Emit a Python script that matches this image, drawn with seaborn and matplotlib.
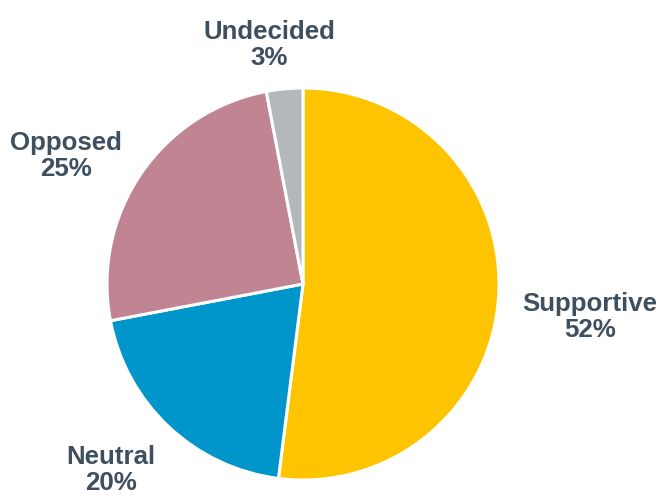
import matplotlib
matplotlib.use("Agg")
import numpy as np
import matplotlib.pyplot as plt
import seaborn as sns

sns.set_theme(style="white")
plt.rcParams['font.family'] = ['Liberation Sans', 'DejaVu Sans']

categories = ["Supportive", "Neutral", "Opposed", "Undecided"]
shares = [52, 20, 25, 3]
colors = ["#FFC400", "#0096CC", "#C08493", "#B3B8BC"]
text_color = "#3E4F60"

# label placement per slice: (distance in radii, angular nudge in degrees)
label_place = [(1.474, -2.96), (1.364, -2.7), (1.374, 5.8), (1.232, 2.7)]

fig = plt.figure(figsize=(6.61, 4.95), dpi=100)
ax = fig.add_axes([0, 0, 1, 1])

wedges, _ = ax.pie(
    shares,
    colors=colors,
    startangle=90,
    counterclock=False,
    wedgeprops=dict(edgecolor="white", linewidth=2.2),
)

for w, cat, val, (dist, nudge) in zip(wedges, categories, shares, label_place):
    mid = np.deg2rad((w.theta1 + w.theta2) / 2 + nudge)
    ax.text(dist * np.cos(mid), dist * np.sin(mid), f"{cat}\n{val}%",
            ha="center", va="center", fontsize=18.6, fontweight="bold",
            color=text_color, linespacing=1.1)

ax.set_xlim(-303 / 196, (661 - 303) / 196)
ax.set_ylim(-(495 - 284) / 196, 284 / 196)
ax.set_aspect("equal")
ax.axis("off")

fig.savefig("out.png", dpi=100, facecolor="white")
